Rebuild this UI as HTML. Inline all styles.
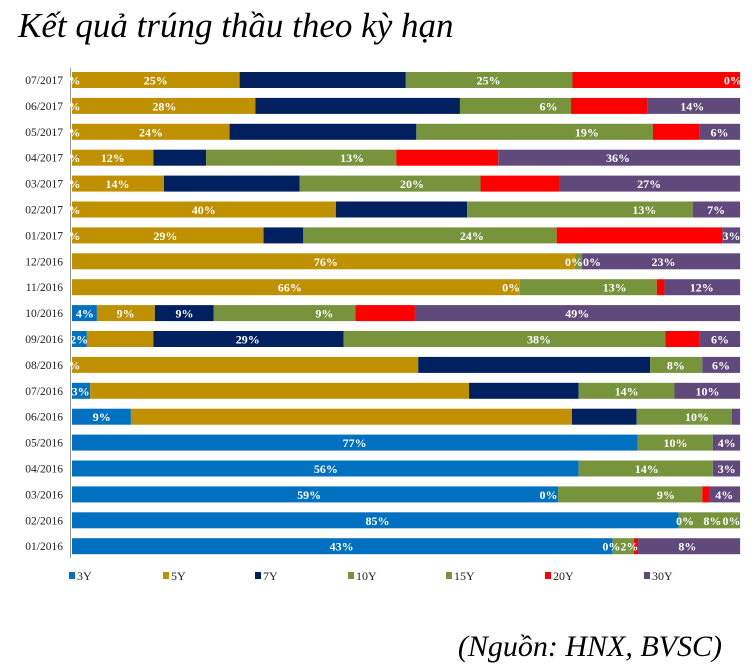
<!DOCTYPE html>
<html><head><meta charset="utf-8"><style>
body{margin:0;background:#fff;width:754px;height:670px;overflow:hidden}
svg{display:block}
</style></head><body>
<svg id="s" width="754" height="670" xmlns="http://www.w3.org/2000/svg">
<text x="18" y="37" font-family="Liberation Serif" font-style="italic" font-size="35">Kết quả trúng thầu theo kỳ hạn</text>
<text x="722" y="656" text-anchor="end" font-family="Liberation Serif" font-style="italic" font-size="30">(Nguồn: HNX, BVSC)</text>
<line x1="70.5" y1="68" x2="70.5" y2="558" stroke="#999" stroke-width="1"/>
</svg>
<script>
var C={b:"#0070C0",g:"#BF9000",n:"#002060",v:"#77933C",r:"#FF0000",p:"#604A7B"};
var rows=[
["07/2017",[["g",495],["n",842],["v",1190],["r",1540]],[[150,"%"],[320,"25%"],[1015,"25%"],[1525,"0%"]]],
["06/2017",[["g",528],["n",955],["v",1187],["r",1347],["p",1540]],[[150,"%"],[338,"28%"],[1140,"6%"],[1440,"14%"]]],
["05/2017",[["g",474],["n",864],["v",1358],["r",1456],["p",1540]],[[150,"%"],[310,"24%"],[1220,"19%"],[1497,"6%"]]],
["04/2017",[["g",315],["n",425],["v",822],["r",1035],["p",1540]],[[150,"%"],[230,"12%"],[730,"13%"],[1285,"36%"]]],
["03/2017",[["g",337],["n",620],["v",998],["r",1163],["p",1540]],[[150,"%"],[240,"14%"],[855,"20%"],[1350,"27%"]]],
["02/2017",[["g",696],["n",970],["v",1441],["p",1540]],[[150,"%"],[420,"40%"],[1340,"13%"],[1490,"7%"]]],
["01/2017",[["g",545],["n",628],["v",1157],["r",1503],["p",1540]],[[150,"%"],[340,"29%"],[980,"24%"],[1522,"3%"]]],
["12/2016",[["g",1195],["v",1210],["p",1540]],[[675,"76%"],[1212,"0%0%"],[1380,"23%"]]],
["11/2016",[["g",1080],["v",1366],["r",1382],["p",1540]],[[600,"66%"],[1062,"0%"],[1278,"13%"],[1460,"12%"]]],
["10/2016",[["b",197],["g",318],["n",441],["v",737],["r",861],["p",1540]],[[172,"4%"],[257,"9%"],[380,"9%"],[672,"9%"],[1200,"49%"]]],
["09/2016",[["b",176],["g",315],["n",712],["v",1384],["r",1455],["p",1540]],[[160,"2%"],[512,"29%"],[1120,"38%"],[1498,"6%"]]],
["08/2016",[["g",868],["n",1352],["v",1461],["p",1540]],[[150,"%"],[1406,"8%"],[1500,"6%"]]],
["07/2016",[["b",183],["g",974],["n",1203],["v",1403],["p",1540]],[[163,"3%"],[1303,"14%"],[1472,"10%"]]],
["06/2016",[["b",268],["g",1189],["n",1324],["v",1523],["p",1540]],[[207,"9%"],[1450,"10%"]]],
["05/2016",[["b",1326],["v",1483],["p",1540]],[[735,"77%"],[1405,"10%"],[1512,"4%"]]],
["04/2016",[["b",1203],["v",1483],["p",1540]],[[675,"56%"],[1345,"14%"],[1512,"3%"]]],
["03/2016",[["b",1160],["v",1461],["r",1475],["p",1540]],[[640,"59%"],[1140,"0%"],[1385,"9%"],[1507,"4%"]]],
["02/2016",[["b",1412],["v",1540]],[[783,"85%"],[1425,"0%"],[1482,"8%"],[1522,"0%"]]],
["01/2016",[["b",1274],["v",1318],["r",1327],["p",1540]],[[708,"43%"],[1290,"0%2%"],[1430,"8%"]]]
];
var s=document.getElementById("s"),ns="http://www.w3.org/2000/svg";
function X(z){return 72+(z-145)/2.088;}
function el(t,a,txt){var e=document.createElementNS(ns,t);for(var k in a)e.setAttribute(k,a[k]);if(txt)e.textContent=txt;s.appendChild(e);return e;}
rows.forEach(function(r,i){
 var cy=80+i*25.9,y=cy-8,h=16,x0=145;
 el("text",{x:63,y:cy+4,"text-anchor":"end","font-family":"Liberation Serif","font-size":"11.5",fill:"#222"},r[0]);
 r[1].forEach(function(sg){el("rect",{x:X(x0),y:y,width:X(sg[1])-X(x0),height:h,fill:C[sg[0]]});x0=sg[1];});
 r[2].forEach(function(l){el("text",{x:X(l[0]),y:cy+4.5,"text-anchor":"middle","font-family":"Liberation Serif","font-weight":"bold","font-size":"12",fill:"#fff"},l[1]);});
});
var lg=[["b","3Y",69],["g","5Y",163],["n","7Y",255],["v","10Y",348],["v","15Y",446],["r","20Y",545],["p","30Y",644]];
lg.forEach(function(l){el("rect",{x:l[2],y:572,width:6,height:7,fill:C[l[0]]});el("text",{x:l[2]+8,y:580,"font-family":"Liberation Serif","font-size":"12",fill:"#222"},l[1]);});
</script>
</body></html>
